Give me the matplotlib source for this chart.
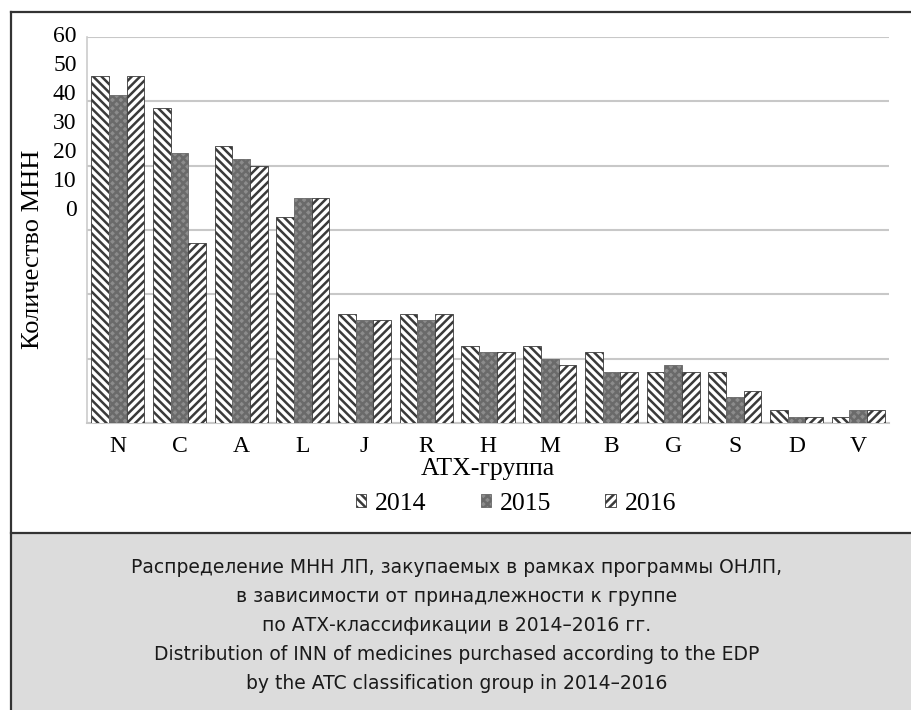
import matplotlib.pyplot as plt
import matplotlib.patches as mpatches
import matplotlib.lines as mlines
import numpy as np

groups = ['N', 'C', 'A', 'L', 'J', 'R', 'H', 'M', 'B', 'G', 'S', 'D', 'V']
years = ['2014', '2015', '2016']
v2014 = [54, 49, 43, 32, 17, 17, 12, 12, 11, 8, 8, 2, 1]
v2015 = [51, 42, 41, 35, 16, 16, 11, 10, 8, 9, 4, 1, 2]
v2016 = [54, 28, 40, 35, 16, 17, 11, 9, 8, 8, 5, 1, 2]
ytick_labels = ['60', '50', '40', '30', '20', '10', '0']

caption = ('Распределение МНН ЛП, закупаемых в рамках программы ОНЛП,\n'
           'в зависимости от принадлежности к группе\n'
           'по АТХ-классификации в 2014–2016 гг.\n'
           'Distribution of INN of medicines purchased according to the EDP\n'
           'by the ATC classification group in 2014–2016')

plt.rcParams['font.family'] = 'Liberation Serif'
plt.rcParams['hatch.linewidth'] = 1.8

fig = plt.figure(figsize=(9.12, 7.10), dpi=100)
ax = fig.add_axes([0.0954, 0.4042, 0.8794, 0.5437])

x = np.arange(len(groups))
w = 0.287
# 2014 - back diagonal, 2015 - dense grey, 2016 - forward diagonal
b1 = ax.bar(x - w, v2014, w, facecolor='white', edgecolor='#3a3a3a',
            hatch='\\\\\\\\', linewidth=0.6, zorder=3)
b2 = ax.bar(x, v2015, w, facecolor='#8c8c8c', edgecolor='#6a6a6a',
            hatch='xxxx', linewidth=0.6, zorder=3)
b3 = ax.bar(x + w, v2016, w, facecolor='white', edgecolor='#3a3a3a',
            hatch='////', linewidth=0.6, zorder=3)

ax.set_xlim(-0.5, len(groups) - 0.5)
ax.set_ylim(0, 60)
ax.set_yticks(range(0, 61, 10))
ax.set_yticklabels([])
ax.tick_params(axis='y', length=0)
ax.tick_params(axis='x', length=0, pad=9, labelsize=17)
ax.set_xticks(x)
ax.set_xticklabels(groups)
ax.grid(axis='y', color='#c8c8c8', linewidth=1.5, zorder=0)
for s in ['top', 'right']:
    ax.spines[s].set_visible(False)
ax.spines['left'].set_color('#cccccc')
ax.spines['left'].set_linewidth(1.2)
ax.spines['bottom'].set_color('#c8c8c8')
ax.spines['bottom'].set_linewidth(1.5)

# the tick labels in the original are squeezed into the upper part of the axis
for i, lab in enumerate(ytick_labels):
    ax.text(-0.013, 1.0 - i * 0.0747, lab, transform=ax.transAxes,
            ha='right', va='center', fontsize=17)

ax.set_ylabel('Количество МНН', fontsize=19)
ax.yaxis.set_label_coords(-0.053, 0.45)
ax.set_xlabel('АТХ-группа', fontsize=18.5, labelpad=1)

leg = ax.legend([b1, b2, b3], years, loc='center', bbox_to_anchor=(0.535, -0.21),
                ncol=3, frameon=False, fontsize=18.5, handlelength=0.4,
                handleheight=0.4, handletextpad=0.35, columnspacing=2.1)

# frame and caption box
fig.add_artist(mpatches.Rectangle((12 / 912, 0), 1, (710 - 533) / 710,
                                  transform=fig.transFigure, facecolor='#dcdcdc',
                                  edgecolor='none', zorder=0))
fig.add_artist(mlines.Line2D([11.5 / 912, 11.5 / 912], [0, 1 - 11.5 / 710],
                             transform=fig.transFigure, color='#333333', lw=1.6))
fig.add_artist(mlines.Line2D([11.5 / 912, 1], [1 - 11.5 / 710, 1 - 11.5 / 710],
                             transform=fig.transFigure, color='#333333', lw=1.6))
fig.add_artist(mlines.Line2D([11.5 / 912, 1], [1 - 533 / 710, 1 - 533 / 710],
                             transform=fig.transFigure, color='#333333', lw=1.6))

fig.text(457 / 912, 1 - 625.5 / 710, caption, ha='center', va='center',
         fontsize=13.5, family='DejaVu Sans', linespacing=1.68,
         color='#1a1a1a')

fig.savefig('out.png', dpi=100)
